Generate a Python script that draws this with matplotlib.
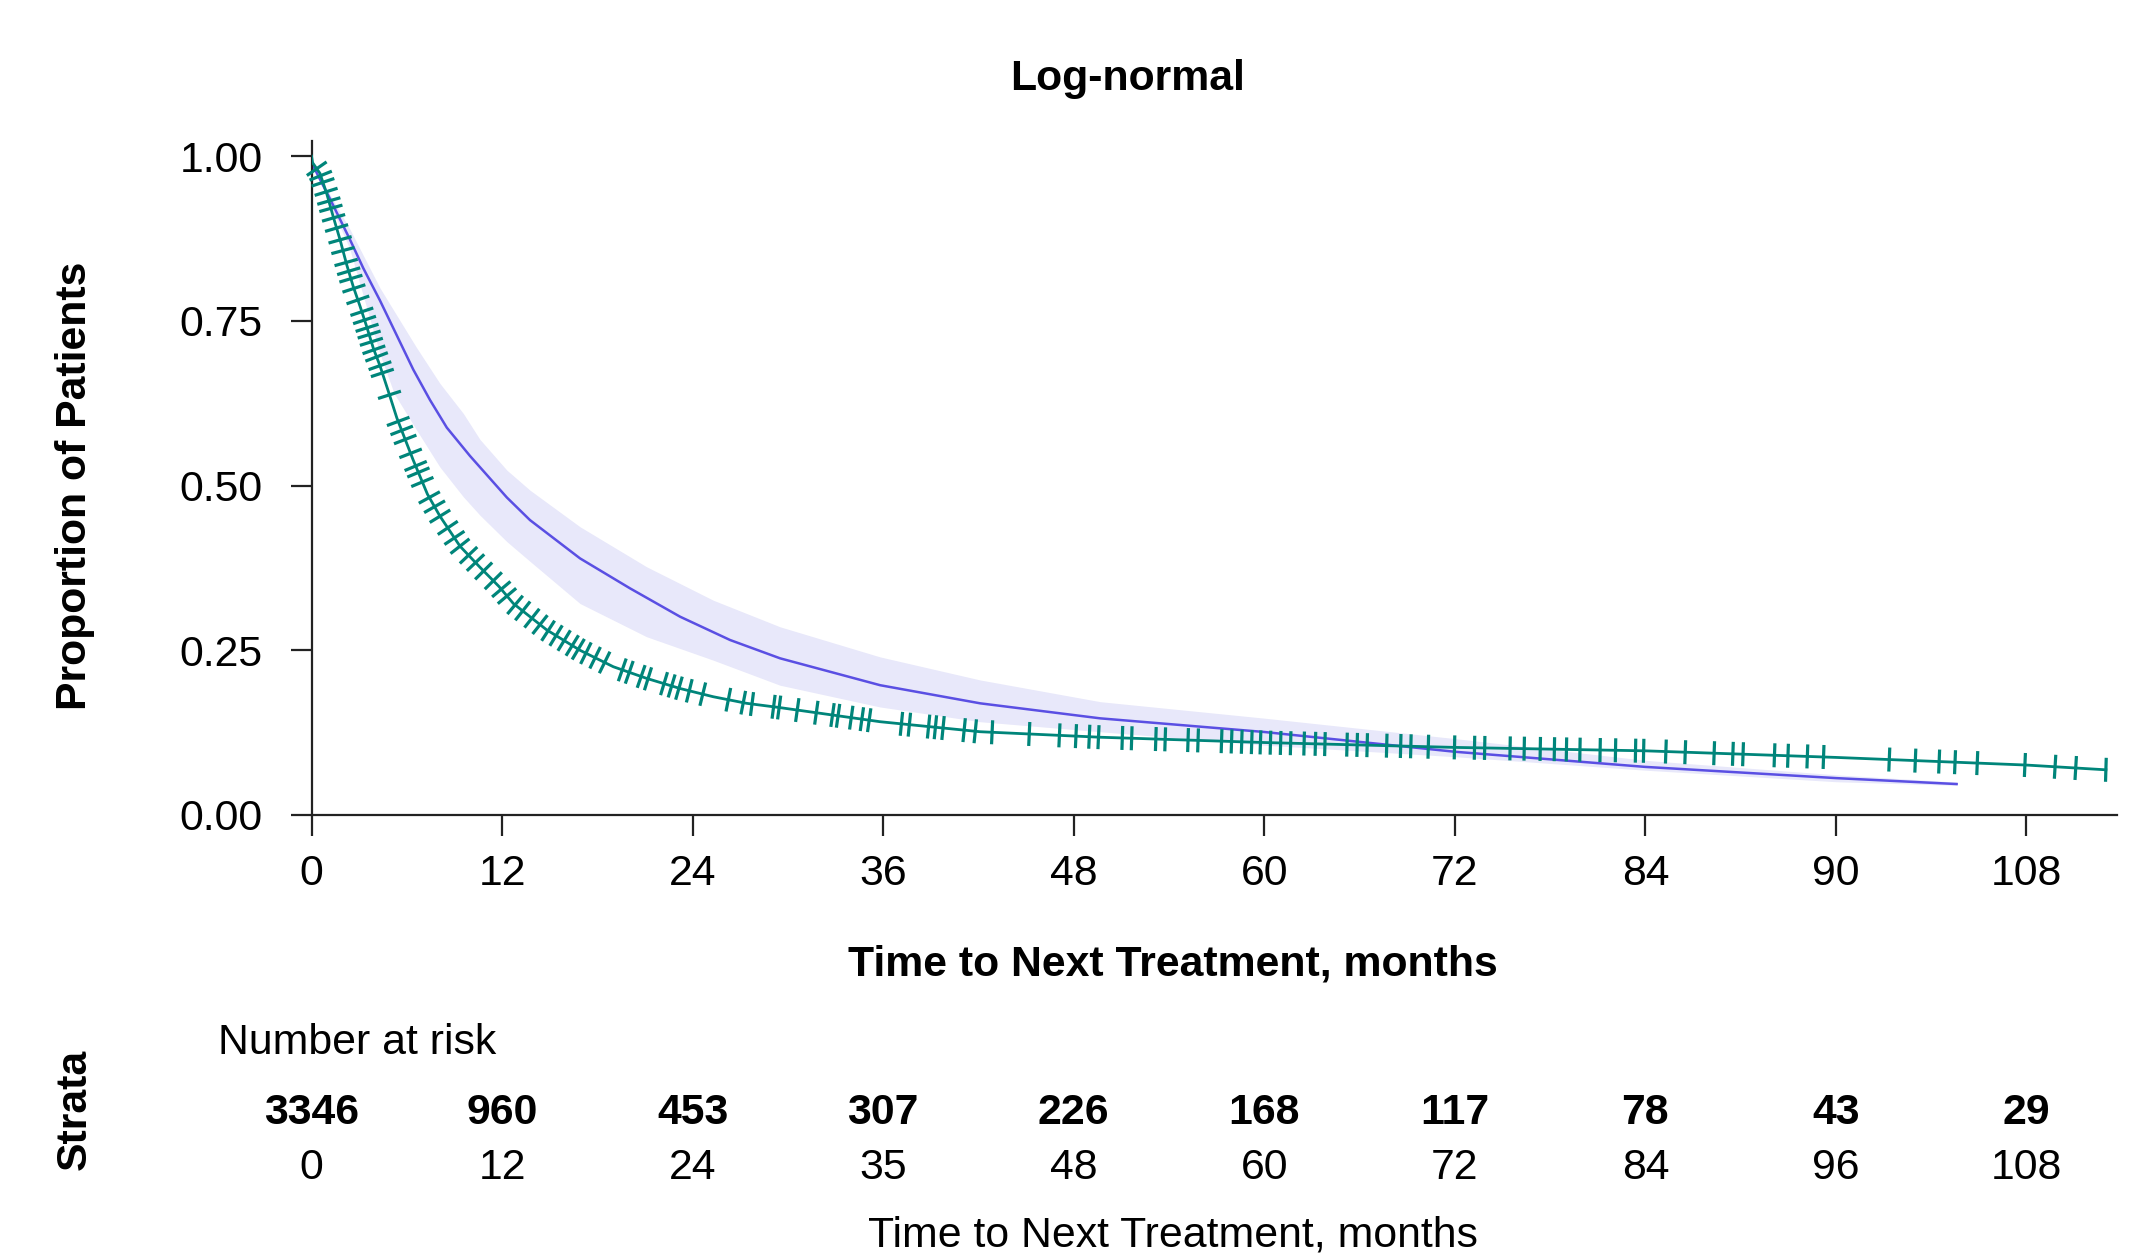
import numpy as np
import matplotlib
matplotlib.use('Agg')
import matplotlib.pyplot as plt
from matplotlib import transforms
from matplotlib.collections import LineCollection

plt.rcParams['font.family'] = ['Liberation Sans', 'DejaVu Sans']

# Kaplan-Meier curve
km_t = [0, 0.07, 0.53, 0.96, 1.37, 1.8, 2.22, 2.63, 3.06, 3.48, 3.9, 4.31, 4.84, 5.37, 5.9,
        6.4, 7.3, 8.09, 9.35, 10.61, 11.8, 12.71, 14.81, 16.91, 19.01, 21.1, 23.21, 25.3,
        27.4, 29.5, 35.8, 42.1, 49.7, 60, 72, 84, 96, 108, 113]
km_s = [1.0, 0.99, 0.974, 0.943, 0.908, 0.873, 0.835, 0.802, 0.772, 0.741, 0.708, 0.682,
        0.643, 0.603, 0.570, 0.539, 0.487, 0.4535, 0.408, 0.376, 0.347, 0.321, 0.281, 0.250,
        0.225, 0.2074, 0.192, 0.1795, 0.1695, 0.163, 0.1416, 0.1264, 0.118, 0.110, 0.1026,
        0.0974, 0.0874, 0.0758, 0.0686]

# censoring times
cens_t = [0.33, 0.58, 0.72, 0.92, 1.09, 1.22, 1.39, 1.58, 1.80, 1.98, 2.18, 2.34, 2.48, 2.67,
          2.92, 3.17, 3.34, 3.50, 3.63, 3.77, 3.93, 4.1, 4.31, 4.46, 4.91, 5.46, 5.68, 5.90,
          6.24, 6.56, 6.73, 6.98, 7.42, 7.75, 8.09, 8.58, 9.0, 9.35, 9.89, 10.33, 10.84, 11.45,
          11.95, 12.31, 12.82, 13.30, 13.88, 14.39, 14.90, 15.40, 15.91, 16.42, 16.80, 17.28,
          17.86, 18.46, 19.57, 20.01, 20.76, 21.19, 22.20, 22.68, 23.14, 23.79, 24.64, 26.25,
          27.19, 27.74, 29.10, 29.45, 30.59, 31.79, 32.81, 33.16, 33.99, 34.66, 35.12, 37.15,
          37.65, 38.86, 39.29, 39.77, 41.10, 41.80, 42.86, 45.20, 47.10, 48.14, 48.98, 49.56,
          51.06, 51.65, 53.17, 53.76, 55.2, 55.83, 57.31, 57.94, 58.58, 59.21, 59.76, 60.39,
          61.03, 61.66, 62.51, 63.22, 63.82, 65.21, 65.85, 66.48, 67.71, 68.59, 69.23, 70.33,
          71.98, 73.24, 73.88, 75.48, 76.37, 77.38, 78.27, 79.03, 79.88, 81.15, 82.12, 83.38,
          83.89, 85.29, 86.51, 88.33, 89.51, 90.15, 92.13, 92.98, 94.2, 95.22, 99.36, 101.0,
          102.5, 103.5, 104.9, 107.9, 109.8, 111.1, 113.0]

# log-normal fit
fit_t = [0, 1.17, 2.43, 3.26, 4.31, 5.37, 6.41, 7.46, 8.52, 9.98, 12.3, 13.76, 16.91,
         20.06, 23.21, 26.36, 29.51, 35.81, 42.11, 49.67, 60, 72, 84, 96, 103.6]
fit_s = [0.99, 0.935, 0.873, 0.83, 0.781, 0.728, 0.676, 0.630, 0.588, 0.545, 0.482,
         0.4476, 0.3895, 0.344, 0.301, 0.2656, 0.2378, 0.197, 0.1695, 0.1467, 0.126, 0.096,
         0.073, 0.056, 0.047]

# confidence band of the fit
band_t = [0, 2.4, 4.31, 5.2, 6.6, 8.09, 9.56, 10.61, 12.3, 13.76, 16.91, 21.1, 25.3, 29.5,
          35.8, 42.1, 49.67, 60, 72, 84, 96, 103.6]
band_hi = [0.99, 0.89, 0.80, 0.765, 0.71, 0.655, 0.6095, 0.57, 0.5235, 0.493, 0.4375, 0.3768,
           0.326, 0.2857, 0.240, 0.205, 0.172, 0.147, 0.116, 0.083, 0.061, 0.05]
band_lo = [0.99, 0.86, 0.70, 0.64, 0.585, 0.528, 0.483, 0.455, 0.415, 0.385, 0.321, 0.2706,
           0.235, 0.197, 0.164, 0.1416, 0.1264, 0.106, 0.0885, 0.068, 0.0505, 0.045]

x_ticks = [0, 12, 24, 36, 48, 60, 72, 84, 96, 108]
x_ticklabels = ['0', '12', '24', '36', '48', '60', '72', '84', '90', '108']
y_ticks = [0, 0.25, 0.5, 0.75, 1.0]

risk_n = [3346, 960, 453, 307, 226, 168, 117, 78, 43, 29]
risk_labels = ['0', '12', '24', '35', '48', '60', '72', '84', '96', '108']

green = '#00857A'
blue = '#5A4FE3'
band = '#E8E8FA'
W, H = 2152, 1258
fs = 15.4

fig = plt.figure(figsize=(10.76, 6.29), dpi=200)
ax = fig.add_axes([311.5 / W, 1 - 815 / H, (2117 - 311.5) / W, (815 - 141) / H])
ax.set_xlim(0, 113.7)
ax.set_ylim(0, 1.023)

ax.fill_between(band_t, band_lo, band_hi, color=band, lw=0, zorder=1)
ax.plot(fit_t, fit_s, color=blue, lw=0.9, zorder=2, solid_joinstyle='round')
ax.plot(km_t, km_s, color=green, lw=1.0, zorder=3, solid_joinstyle='round')

# censor marks, drawn perpendicular to the curve in screen space
ct = np.array(cens_t)
cs = np.interp(ct, km_t, km_s)
p0 = ax.transData.transform(np.column_stack([ct - 0.15, np.interp(ct - 0.15, km_t, km_s)]))
p1 = ax.transData.transform(np.column_stack([ct + 0.15, np.interp(ct + 0.15, km_t, km_s)]))
d = p1 - p0
d = d / np.linalg.norm(d, axis=1)[:, None]
nrm = np.column_stack([-d[:, 1], d[:, 0]])
c = ax.transData.transform(np.column_stack([ct, cs]))
half = 12
inv = ax.transData.inverted()
a = inv.transform(c - nrm * half)
b = inv.transform(c + nrm * half)
segs = [[tuple(a[i]), tuple(b[i])] for i in range(len(ct))]
ax.add_collection(LineCollection(segs, colors=green, linewidths=1.15, zorder=3, clip_on=False))

for s in ['top', 'right']:
    ax.spines[s].set_visible(False)
for s in ['left', 'bottom']:
    ax.spines[s].set_linewidth(0.8)
    ax.spines[s].set_color('#222222')
ax.set_xticks(x_ticks)
ax.set_xticklabels(x_ticklabels)
ax.set_yticks(y_ticks)
ax.set_yticklabels(['%.2f' % v for v in y_ticks])
ax.tick_params(axis='both', direction='out', length=7.5, width=0.8, color='#222222',
               labelsize=fs, labelcolor='black')
ax.tick_params(axis='y', pad=10)
ax.tick_params(axis='x', pad=6.5)

fig.text(1128 / W, 1 - 79 / H, 'Log-normal', ha='center', va='center',
         fontsize=fs, fontweight='bold')
fig.text(75 / W, 1 - 486 / H, 'Proportion of Patients', ha='center', va='center',
         rotation=90, fontsize=fs, fontweight='bold')
fig.text(1173 / W, 1 - 965 / H, 'Time to Next Treatment, months', ha='center', va='center',
         fontsize=fs, fontweight='bold')

# risk table
fig.text(218 / W, 1 - 1043 / H, 'Number at risk', ha='left', va='center', fontsize=fs)
fig.text(75 / W, 1 - 1109 / H, 'Strata', ha='center', va='center', rotation=90,
         fontsize=fs, fontweight='bold')
tr = transforms.blended_transform_factory(ax.transData, fig.transFigure)
for xt, n, lab in zip(x_ticks, risk_n, risk_labels):
    ax.text(xt, 1 - 1113 / H, str(n), transform=tr, ha='center', va='center',
            fontsize=fs, fontweight='bold', clip_on=False)
    ax.text(xt, 1 - 1168 / H, lab, transform=tr, ha='center', va='center',
            fontsize=fs, clip_on=False)
fig.text(1173 / W, 1 - 1235 / H, 'Time to Next Treatment, months', ha='center', va='center',
         fontsize=fs)

fig.savefig('out.png', dpi=200)
